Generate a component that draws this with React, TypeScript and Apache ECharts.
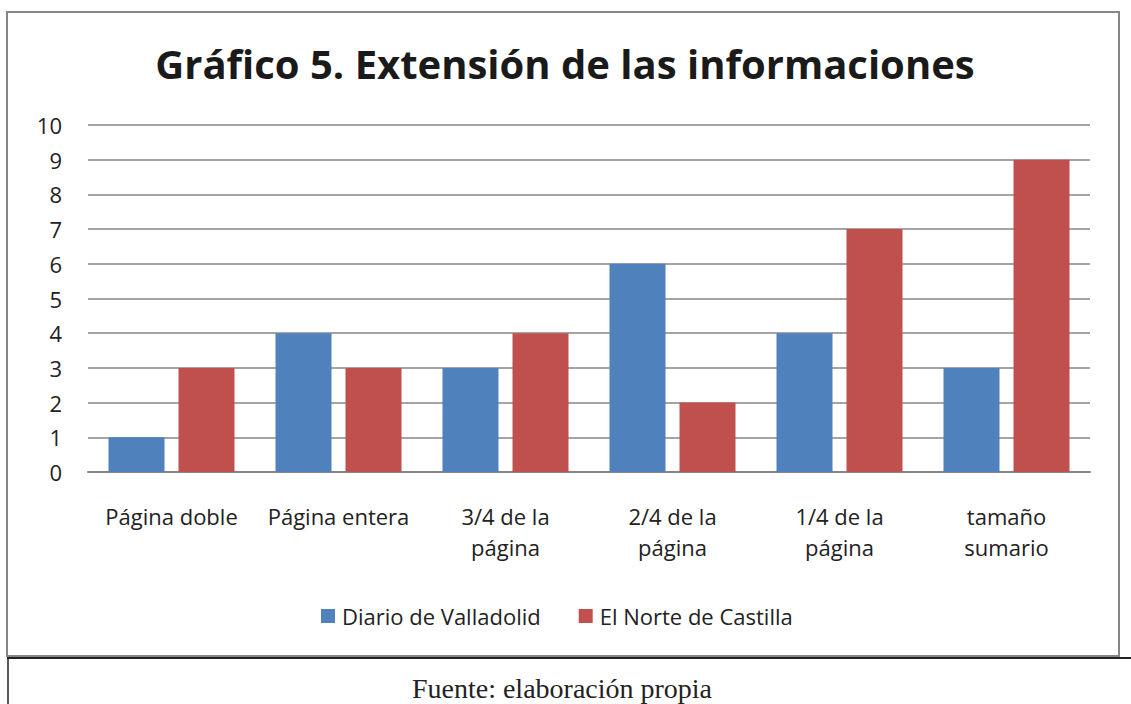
import React, { useEffect, useRef } from "react";
import * as echarts from "echarts";

const titleText = "Gráfico 5. Extensión de las informaciones";
const categories = [
  "Página doble",
  "Página entera",
  "3/4 de la\npágina",
  "2/4 de la\npágina",
  "1/4 de la\npágina",
  "tamaño\nsumario",
];
const seriesNames = ["Diario de Valladolid", "El Norte de Castilla"];
const diarioValues = [1, 4, 3, 6, 4, 3];
const norteValues = [3, 3, 4, 2, 7, 9];
const sourceText = "Fuente: elaboración propia";

export default function App() {
  const ref = useRef<HTMLDivElement>(null);
  useEffect(() => {
    if (!ref.current) return;
    const chart = echarts.init(ref.current, null, { renderer: "svg" });
    const font = "'Open Sans', 'Noto Sans', sans-serif";
    chart.setOption({
      animation: false,
      backgroundColor: "#ffffff",
      title: {
        text: titleText,
        left: 560,
        textAlign: "center",
        top: 38,
        textStyle: {
          fontFamily: font,
          fontWeight: "bold",
          fontSize: 40,
          color: "#1a1a1a",
        },
      },
      legend: {
        data: seriesNames,
        left: 316,
        top: 600,
        icon: "rect",
        itemWidth: 14,
        itemHeight: 14,
        itemGap: 38,
        textStyle: { fontFamily: font, fontSize: 22, color: "#222222", padding: [0, 0, 0, 2] },
      },
      grid: { left: 88, right: 41, top: 125, bottom: 232, containLabel: false },
      xAxis: {
        type: "category",
        data: categories,
        axisLine: { show: true, lineStyle: { color: "#868686", width: 2 } },
        axisTick: { show: false },
        axisLabel: {
          interval: 0,
          margin: 28,
          lineHeight: 31,
          fontFamily: font,
          fontSize: 22,
          color: "#222222",
        },
      },
      yAxis: {
        type: "value",
        min: 0,
        max: 10,
        interval: 1,
        axisLine: { show: false },
        axisTick: { show: false },
        splitLine: { lineStyle: { color: "#868686", width: 1.5 } },
        axisLabel: {
          margin: 26,
          fontFamily: font,
          fontSize: 22,
          color: "#222222",
        },
      },
      series: [
        {
          name: seriesNames[0],
          type: "bar",
          data: diarioValues,
          barWidth: 56,
          barGap: "25%",
          itemStyle: { color: "#4F81BD" },
        },
        {
          name: seriesNames[1],
          type: "bar",
          data: norteValues,
          barWidth: 56,
          barGap: "25%",
          itemStyle: { color: "#C0504D" },
        },
      ],
      graphic: [
        {
          type: "rect",
          shape: { x: 7, y: 12, width: 1112, height: 644 },
          style: { fill: "none", stroke: "#868686", lineWidth: 2 },
          silent: true,
        },
        {
          type: "line",
          shape: { x1: 7, y1: 658, x2: 1131, y2: 658 },
          style: { stroke: "#222222", lineWidth: 2 },
          silent: true,
        },
        {
          type: "line",
          shape: { x1: 8, y1: 658, x2: 8, y2: 704 },
          style: { stroke: "#222222", lineWidth: 1.5 },
          silent: true,
        },
        {
          type: "text",
          x: 562,
          y: 688,
          style: {
            text: sourceText,
            align: "center",
            verticalAlign: "middle",
            fontFamily: "'Liberation Serif', 'Times New Roman', serif",
            fontSize: 28,
            fill: "#222222",
          },
          silent: true,
        },
      ],
    });
    return () => chart.dispose();
  }, []);
  return (
    <div
      ref={ref}
      style={{ position: "fixed", left: 0, top: 0, width: 1131, height: 704 }}
    />
  );
}
